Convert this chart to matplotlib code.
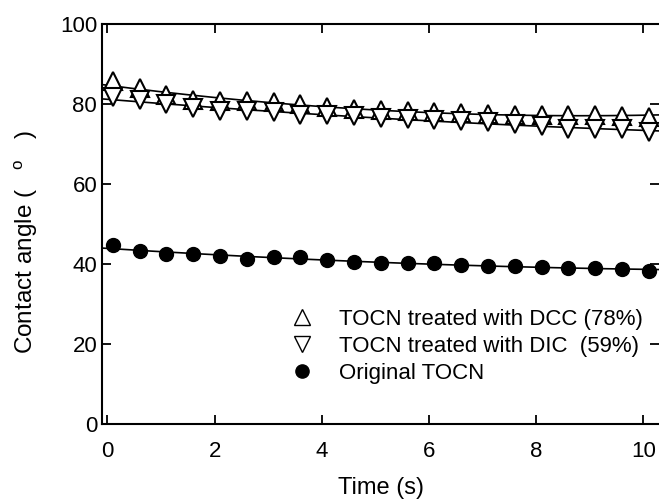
import numpy as np
import matplotlib
matplotlib.use("Agg")
import matplotlib.pyplot as plt
from matplotlib.lines import Line2D

plt.rcParams['font.family'] = ['Liberation Sans', 'DejaVu Sans']
plt.rcParams['mathtext.fontset'] = 'custom'
plt.rcParams['mathtext.rm'] = 'Liberation Sans'

# ---- data ----
time_s = [0.1, 0.6, 1.1, 1.6, 2.1, 2.6, 3.1, 3.6, 4.1, 4.6, 5.1,
          5.6, 6.1, 6.6, 7.1, 7.6, 8.1, 8.6, 9.1, 9.6, 10.1]
dcc_angle = [85.8, 84.0, 82.3, 81.1, 80.7, 80.7, 80.4, 80.1, 79.2, 78.7, 78.5,
             78.25, 78.1, 77.75, 77.5, 77.3, 77.3, 77.2, 77.2, 77.0, 76.7]
dic_angle = [81.7, 80.9, 80.1, 79.1, 78.25, 78.2, 78.0, 77.2, 77.3, 76.9, 76.6,
             76.3, 75.9, 75.7, 75.5, 75.1, 74.5, 73.7, 73.7, 73.7, 73.0]
orig_angle = [44.75, 43.3, 42.4, 42.5, 42.0, 41.25, 41.7, 41.7, 40.9, 40.6, 40.2,
              40.3, 40.2, 39.8, 39.6, 39.5, 39.25, 39.0, 38.9, 38.75, 38.3]
labels = ["TOCN treated with DCC (78%)",
          "TOCN treated with DIC  (59%)",
          "Original TOCN"]
xticks = [0, 2, 4, 6, 8, 10]
yticks = [0, 20, 40, 60, 80, 100]

W, H = 659, 499
fig = plt.figure(figsize=(W / 100, H / 100), dpi=100)
ax = fig.add_axes([102 / W, (H - 424) / H, (W - 102) / W, 400 / H])
xlim = (-0.1, 10.29)
ax.set_xlim(*xlim)
ax.set_ylim(0, 100)

t = np.asarray(time_s)
xx = np.linspace(xlim[0], xlim[1], 200)
lw = 1.2
for y in (dcc_angle, dic_angle, orig_angle):
    c = np.polyfit(t, np.asarray(y), 2)
    ax.plot(xx, np.polyval(c, xx), color='black', lw=lw, zorder=2)

ax.plot(t, dcc_angle, ls='none', marker='^', ms=12.5, mfc='white', mec='black', mew=1.5, zorder=3)
ax.plot(t, dic_angle, ls='none', marker='v', ms=12.5, mfc='white', mec='black', mew=1.5, zorder=3)
ax.plot(t, orig_angle, ls='none', marker='o', ms=10, mfc='black', mec='black', zorder=3)

ax.set_xticks(xticks)
ax.set_xticklabels([str(v) for v in xticks])
ax.set_yticks(yticks)
ax.set_yticklabels([str(v) for v in yticks])
ax.tick_params(direction='in', length=6.5, width=1.3, top=True, right=True,
               labelsize=16, colors='black')
ax.tick_params(axis='x', pad=12)
ax.tick_params(axis='y', pad=3.5)
for s in ('left', 'bottom', 'top'):
    ax.spines[s].set_linewidth(1.5)
ax.spines['right'].set_visible(False)

fig.text(381 / W, 1 - 488 / H, "Time (s)", ha='center', va='center', fontsize=17)
fig.text(25.7 / W, 1 - 242.5 / H, "Contact angle (   $^{\\mathregular{o}}$   )",
         ha='center', va='center', rotation=90, fontsize=17.5)

handles = [
    Line2D([], [], ls='none', marker='^', ms=11, mfc='white', mec='black', mew=1.0),
    Line2D([], [], ls='none', marker='v', ms=11, mfc='white', mec='black', mew=1.0),
    Line2D([], [], ls='none', marker='o', ms=9.5, mfc='black', mec='black'),
]
ax.legend(handles, labels, loc='upper left', bbox_to_anchor=(290.6 / W, 1 - 308.8 / H),
          bbox_transform=fig.transFigure, frameon=False, fontsize=16,
          handlelength=1.0, handletextpad=1.19, labelspacing=0.28,
          borderpad=0, borderaxespad=0)

fig.savefig("out.png", dpi=100)
